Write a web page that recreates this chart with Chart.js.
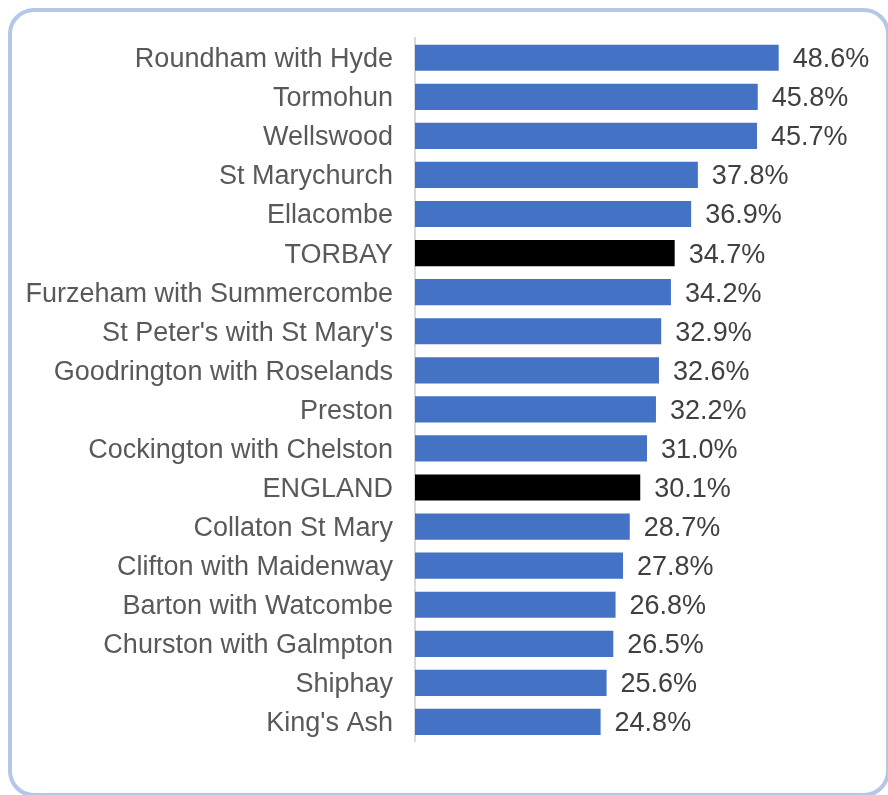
<!DOCTYPE html>
<html>
<head>
<meta charset="utf-8">
<script src="https://cdn.jsdelivr.net/npm/chart.js@4/dist/chart.umd.min.js"></script>
<style>
  html, body { margin: 0; padding: 0; background: #fff; }
  #wrap { position: relative; width: 888px; height: 795px; overflow: hidden; }
  #frame {
    position: absolute; left: 8px; top: 8px; width: 874px; height: 781px;
    border: 4px solid #B4C7E7; border-radius: 26px; pointer-events: none;
  }
  canvas { position: absolute; left: 0; top: 0; }
</style>
</head>
<body>
<div id="wrap">
  <canvas id="wardChart" width="888" height="795"></canvas>
  <div id="frame"></div>
</div>
<script>
// ward names, top to bottom
const wards = [
    'Roundham with Hyde', 'Tormohun', 'Wellswood', 'St Marychurch', 'Ellacombe',
    'TORBAY', 'Furzeham with Summercombe', "St Peter's with St Mary's",
    'Goodrington with Roselands', 'Preston', 'Cockington with Chelston', 'ENGLAND',
    'Collaton St Mary', 'Clifton with Maidenway', 'Barton with Watcombe',
    'Churston with Galmpton', 'Shiphay', "King's Ash"
];

// percentage values
const percentages = [
    48.6, 45.8, 45.7, 37.8, 36.9, 34.7, 34.2, 32.9, 32.6,
    32.2, 31.0, 30.1, 28.7, 27.8, 26.8, 26.5, 25.6, 24.8
];

// comparators get black bars
const comparators = ['TORBAY', 'ENGLAND'];
const barColours = wards.map(w => comparators.includes(w) ? '#000000' : '#4472C4');

const valueLabels = {
    id: 'valueLabels',
    afterDatasetsDraw(chart) {
        const ctx = chart.ctx;
        const meta = chart.getDatasetMeta(0);
        ctx.save();
        ctx.font = '27px "Liberation Sans", Arial, sans-serif';
        ctx.fillStyle = '#404040';
        ctx.textAlign = 'left';
        ctx.textBaseline = 'middle';
        meta.data.forEach((bar, i) => {
            ctx.fillText(percentages[i].toFixed(1) + '%', bar.x + 14, bar.y + 2);
        });
        ctx.restore();
    }
};

const config = {
    type: 'bar',
    data: {
        labels: wards,
        datasets: [{
            data: percentages,
            backgroundColor: barColours,
            borderWidth: 0,
            barPercentage: 0.67,
            categoryPercentage: 1.0
        }]
    },
    options: {
        indexAxis: 'y',
        responsive: false,
        animation: false,
        layout: {
            padding: { top: 37.5, bottom: 53.5, left: 0, right: 24 }
        },
        plugins: {
            legend: { display: false },
            tooltip: { enabled: false }
        },
        scales: {
            x: {
                display: false,
                min: 0,
                max: 60
            },
            y: {
                afterFit(scale) { scale.width = 415; },
                grid: { display: true, drawOnChartArea: false, drawTicks: false },
                border: { display: true, color: '#D9D9D9', width: 2 },
                ticks: {
                    padding: 22,
                    labelOffset: 2,
                    color: '#595959',
                    font: { family: '"Liberation Sans", Arial, sans-serif', size: 27 }
                }
            }
        }
    },
    plugins: [valueLabels]
};

const wardChart = new Chart(document.getElementById('wardChart'), config);
</script>
</body>
</html>
